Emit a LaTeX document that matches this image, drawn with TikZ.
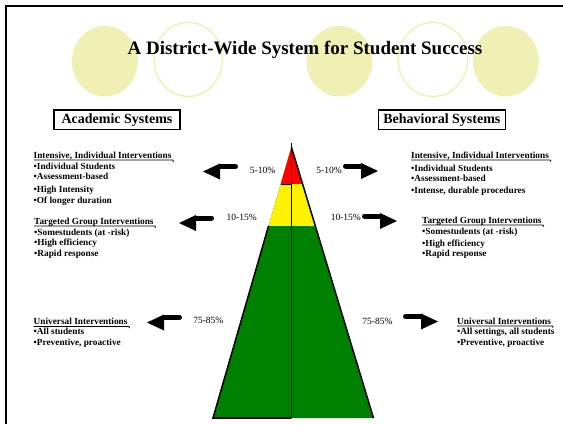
\documentclass[tikz,border=0pt]{standalone}
\usepackage{fontspec}
\setmainfont{Liberation Serif}
\usepackage{tikz}
\definecolor{bubbleclr}{RGB}{240,239,180}
\definecolor{tiergreen}{RGB}{0,128,0}

\begin{document}
\begin{tikzpicture}[x=1pt, y=-1pt,
    bubble/.style = {fill=bubbleclr},
    ring/.style = {draw=bubbleclr, line width=1.4pt},
    sysbox/.style = {draw, line width=1.2pt, inner sep=0pt, minimum height=19.5pt,
        font=\bfseries\fontsize{14}{16}\selectfont},
    headline/.style = {anchor=base west, inner sep=0pt, text depth=0pt,
        font=\bfseries\fontsize{9.3}{11}\selectfont},
    items/.style = {anchor=base west, inner sep=0pt, align=left,
        font=\bfseries\fontsize{9.3}{10.5}\selectfont},
    pct/.style = {inner sep=0pt, font=\fontsize{9.5}{11}\selectfont},
    shaft/.style = {line width=5pt, line cap=round},
    uline/.style = {line width=0.9pt},
    rim/.style = {line width=1.5pt}]
    \useasboundingbox (0,0) rectangle (563,424);

    \fill[bubble] (104.9,61.2) ellipse [x radius=32.9, y radius=35.3];
    \draw[ring] (188.2,59.4) ellipse [x radius=34.2, y radius=37];
    \fill[bubble] (339.4,61.2) ellipse [x radius=32.9, y radius=35.3];
    \draw[ring] (432.8,59.4) ellipse [x radius=34.8, y radius=37];
    \fill[bubble] (505.9,61.2) ellipse [x radius=32.9, y radius=35.3];

    \draw[line width=2pt] (5.5,424) -- (5.5,6) -- (563,6);

    \node[anchor=base, font=\bfseries\fontsize{19}{22}\selectfont] (title) at (305,54.5)
        {A District-Wide System for Student Success};

    \node[sysbox, minimum width=126pt] (acad) at (117,119.8) {Academic Systems};
    \node[sysbox, minimum width=127pt] (behav) at (441.9,119.8) {Behavioral Systems};

    \coordinate (apex) at (291.4,147);
    \coordinate (bl) at (213,418);
    \coordinate (br) at (373.5,418);
    \coordinate (bc) at (291.4,418);
    \coordinate (top) at (291.4,143);
    \coordinate (rl) at (280.6,184.3);
    \coordinate (rc) at (291.4,184.3);
    \coordinate (gl) at (268.6,225.7);

    \fill[tiergreen] (apex) -- (bl) -- (br) -- cycle;
    \begin{scope}
        \clip (apex) -- (bl) -- (br) -- cycle;
        \fill[yellow] (200,140) rectangle (390,225.7);
        \fill[red] (200,140) rectangle (390,184.3);
    \end{scope}
    \draw[rim] (gl) -- (bl) -- (bc);
    \draw[rim] (apex) -- (br);
    \draw[rim] (rl) -- (rc);
    \draw[rim] (top) -- (bc);

    \node[pct] (pL1) at (262.5,170.7) {5-10\%};
    \node[pct] (pR1) at (329,170.7) {5-10\%};
    \node[pct] (pL2) at (241.7,217.3) {10-15\%};
    \node[pct] (pR2) at (345.8,217.3) {10-15\%};
    \node[pct] (pL3) at (208.3,320) {75-85\%};
    \node[pct] (pR3) at (377.5,321.5) {75-85\%};

    \coordinate (aL1) at (203,171.5);
    \coordinate (aR1) at (378,171);
    \coordinate (aL2) at (179,223);
    \coordinate (aR2) at (397,221);
    \coordinate (aL3) at (147,322.5);
    \coordinate (aR3) at (438,321.5);
    \foreach \a in {aL1,aL2,aL3} {
        \fill (\a) -- ++(17,-8) -- ++(0,16) -- cycle;
        \draw[shaft] (\a) ++(17,-5) -- ++(15.5,0);
    }
    \foreach \a in {aR1,aR2,aR3} {
        \fill (\a) -- ++(-17,-8) -- ++(0,16) -- cycle;
        \draw[shaft] (\a) ++(-17,-5) -- ++(-15.5,0);
    }

    \node[headline] (hL1) at (33.5,158) {Intensive, Individual Interventions};
    \node[items] (iL1) at (33.5,203) {\textbullet Individual Students\\
        \textbullet Assessment-based\\[2.5pt] \textbullet High Intensity\\
        \textbullet Of longer duration};
    \node[headline] (hL2) at (34,224) {Targeted Group Interventions};
    \node[items] (iL2) at (34,256) {\textbullet Somestudents (at -risk)\\
        \textbullet High efficiency\\ \textbullet Rapid response};
    \node[headline] (hL3) at (33.5,324.5) {Universal Interventions};
    \node[items] (iL3) at (33.5,345.2) {\textbullet All students\\
        \textbullet Preventive, proactive};

    \node[headline] (hR1) at (411,158) {Intensive, Individual Interventions};
    \node[items] (iR1) at (411,193) {\textbullet Individual Students\\
        \textbullet Assessment-based\\[1pt] \textbullet Intense, durable procedures};
    \node[headline] (hR2) at (422,223) {Targeted Group Interventions};
    \node[items] (iR2) at (422,256.7) {\textbullet Somestudents (at -risk)\\[1pt]
        \textbullet High efficiency\\ \textbullet Rapid response};
    \node[headline] (hR3) at (457,324) {Universal Interventions};
    \node[items] (iR3) at (457,345.2) {\textbullet All settings, all students\\
        \textbullet Preventive, proactive};

    \foreach \h in {hL1,hL2,hL3,hR1,hR2,hR3}
        \draw[uline] ([yshift=-1.8pt]\h.south west) -- ([xshift=1pt,yshift=-1.8pt]\h.south east) -- ++(1,1.5);
\end{tikzpicture}
\end{document}
